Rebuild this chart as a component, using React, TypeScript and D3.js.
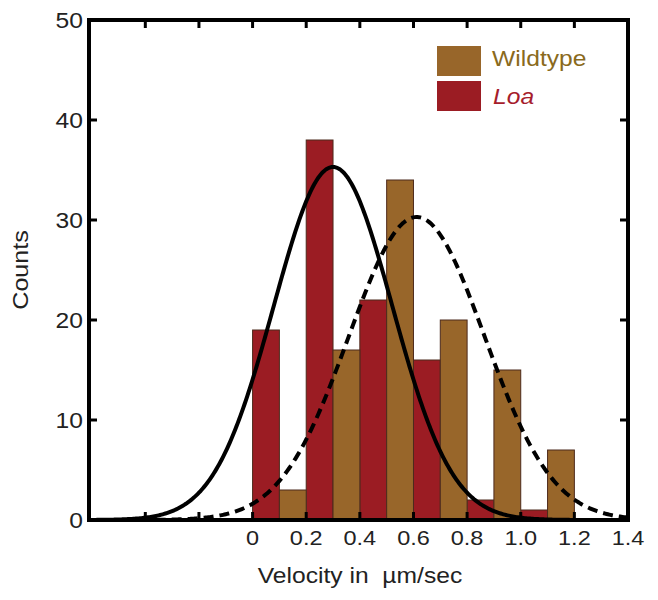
import React from "react";
import * as d3 from "d3";

// Histogram bins (bin start, width 0.1)
const loaBins = [0, 0.2, 0.4, 0.6, 0.8, 1.0];
const loaCounts = [19, 38, 22, 16, 2, 1];
const wildBins = [0.1, 0.3, 0.5, 0.7, 0.9, 1.1];
const wildCounts = [3, 17, 34, 20, 15, 7];
const binWidth = 0.1;

// Gaussian fit parameters [amplitude, mean, sd]
const loaFit = [35.3, 0.3, 0.221];
const wildFit = [30.3, 0.612, 0.253];

const xTickVals = [-0.4, -0.2, 0, 0.2, 0.4, 0.6, 0.8, 1.0, 1.2];
const xLabelVals = [0, 0.2, 0.4, 0.6, 0.8, 1.0, 1.2, 1.4];
const xLabels = ["0", "0.2", "0.4", "0.6", "0.8", "1.0", "1.2", "1.4"];
const yTickVals = [10, 20, 30, 40];
const yLabelVals = [0, 10, 20, 30, 40, 50];

const RED = "#9b1c23";
const BROWN = "#98662a";
const FONT = "'Liberation Sans', Arial, Helvetica, sans-serif";

export default function App() {
  const L = 89, R = 628, T = 20, B = 520;
  const x = d3.scaleLinear().domain([-0.61, 1.4]).range([L, R]);
  const y = d3.scaleLinear().domain([0, 50]).range([B, T]);

  const gauss = (p: number[]) => (v: number) =>
    p[0] * Math.exp(-((v - p[1]) ** 2) / (2 * p[2] * p[2]));
  const xs = d3.range(-0.6, 1.4001, 0.005);
  const loaPath = d3
    .line<number>()
    .x((v) => x(v))
    .y((v) => y(gauss(loaFit)(v)))(xs);
  const wildPath = d3
    .line<number>()
    .x((v) => x(v))
    .y((v) => y(gauss(wildFit)(v)))(xs);

  const tickLen = 8;
  const sx = 1.12;

  const stretchText = (
    tx: number,
    ty: number,
    txt: React.ReactNode,
    props: any,
    key?: any
  ) => (
    <text
      key={key}
      transform={`translate(${tx},${ty}) scale(${sx},1)`}
      {...props}
    >
      {txt}
    </text>
  );

  return (
    <svg
      width={658}
      height={600}
      style={{ position: "absolute", left: 0, top: 0, background: "#fff" }}
      fontFamily={FONT}
    >
      <rect x={0} y={0} width={658} height={600} fill="#fff" />
      {/* bars */}
      {loaBins.map((b, i) => (
        <rect
          key={"l" + i}
          x={x(b)}
          y={y(loaCounts[i])}
          width={x(b + binWidth) - x(b)}
          height={y(0) - y(loaCounts[i])}
          fill={RED}
          stroke="#4d2a1c"
          strokeWidth={1}
        />
      ))}
      {wildBins.map((b, i) => (
        <rect
          key={"w" + i}
          x={x(b)}
          y={y(wildCounts[i])}
          width={x(b + binWidth) - x(b)}
          height={y(0) - y(wildCounts[i])}
          fill={BROWN}
          stroke="#4d2a1c"
          strokeWidth={1}
        />
      ))}
      {/* fits */}
      <path d={wildPath || ""} fill="none" stroke="#000" strokeWidth={4} strokeDasharray="10 6" />
      <path d={loaPath || ""} fill="none" stroke="#000" strokeWidth={4} />

      {/* frame */}
      <rect x={L} y={T} width={R - L} height={B - T} fill="none" stroke="#000" strokeWidth={4} />
      {/* ticks */}
      {xTickVals.map((v, i) => (
        <g key={"xt" + i}>
          <line x1={x(v)} x2={x(v)} y1={B} y2={B - tickLen} stroke="#000" strokeWidth={3} />
          <line x1={x(v)} x2={x(v)} y1={T} y2={T + tickLen} stroke="#000" strokeWidth={3} />
        </g>
      ))}
      {yTickVals.map((v, i) => (
        <g key={"yt" + i}>
          <line x1={L} x2={L + tickLen} y1={y(v)} y2={y(v)} stroke="#000" strokeWidth={3} />
          <line x1={R} x2={R - tickLen} y1={y(v)} y2={y(v)} stroke="#000" strokeWidth={3} />
        </g>
      ))}
      {/* tick labels */}
      {xLabelVals.map((v, i) =>
        stretchText(x(v), 545, xLabels[i], { textAnchor: "middle", fontSize: 21, fill: "#222" }, "xl" + i)
      )}
      {yLabelVals.map((v, i) =>
        stretchText(83, y(v) + 8, String(v), { textAnchor: "end", fontSize: 22, fill: "#222" }, "yl" + i)
      )}
      {/* axis titles */}
      {stretchText(360, 583, "Velocity in  µm/sec", { textAnchor: "middle", fontSize: 22, fill: "#222", style: { whiteSpace: "pre" } })}
      <text
        transform={`translate(28,${(T + B) / 2}) rotate(-90) scale(1.14,1)`}
        textAnchor="middle"
        fontSize={22}
        fill="#222"
      >
        Counts
      </text>

      {/* legend */}
      <rect x={437} y={46} width={44} height={30} fill={BROWN} />
      <rect x={437} y={81} width={44} height={30} fill={RED} />
      {stretchText(492, 66, "Wildtype", { fontSize: 22, fill: "#8a6a1c" })}
      {stretchText(493, 104, "Loa", { fontSize: 22, fill: "#a61d2c", fontStyle: "italic" })}
    </svg>
  );
}
